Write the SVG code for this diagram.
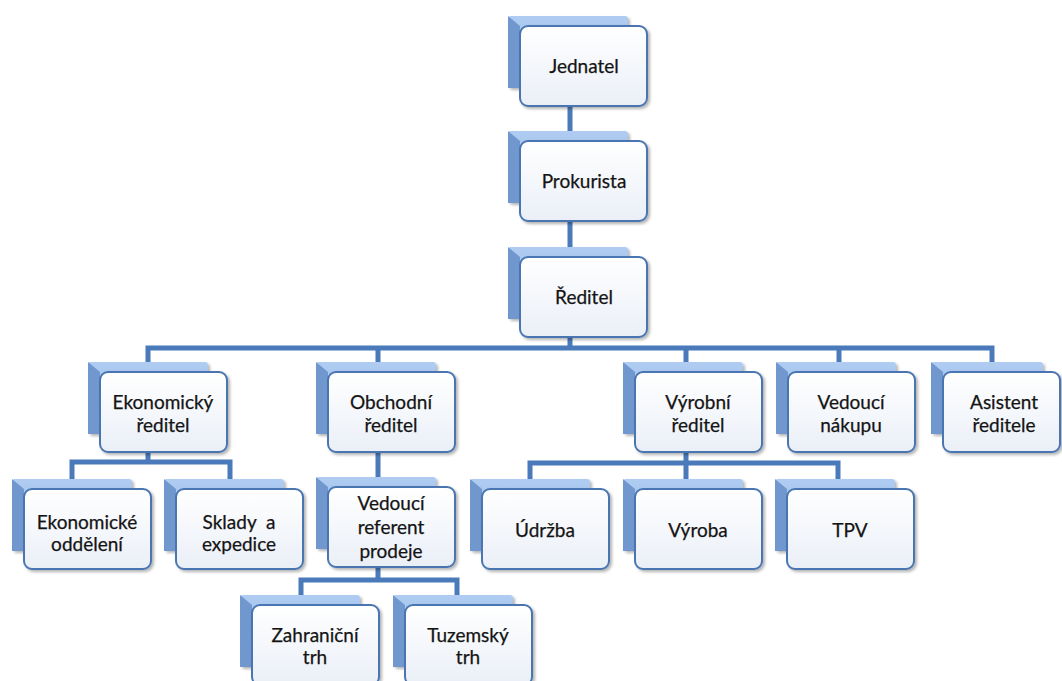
<svg xmlns="http://www.w3.org/2000/svg" xmlns:xlink="http://www.w3.org/1999/xlink" width="1062" height="681" viewBox="0 0 1062 681">
<style>
.conn{stroke:#4a7aba;stroke-width:5;fill:none;stroke-linecap:butt}
.back{fill:url(#backGrad)}
.side{fill:#7098cf}
.front{fill:url(#frontGrad);stroke:#4a76b0;stroke-width:2}
text{font-family:Lato,"Liberation Sans",sans-serif;font-size:19px;fill:#141414;text-anchor:middle;stroke:#141414;stroke-width:0.25}
.pre{white-space:pre}
</style>
<defs>
<linearGradient id="backGrad" x1="0" y1="0" x2="0" y2="1">
<stop offset="0" stop-color="#b0ccf2"/>
<stop offset="1" stop-color="#8ab0e2"/>
</linearGradient>
<linearGradient id="frontGrad" x1="0" y1="0" x2="0" y2="1">
<stop offset="0" stop-color="#ffffff"/>
<stop offset="1" stop-color="#eaeff7"/>
</linearGradient>
<filter id="sh" x="-10%" y="-10%" width="125%" height="125%">
<feGaussianBlur in="SourceAlpha" stdDeviation="1.5"/>
<feOffset dx="1.5" dy="2" result="b"/>
<feComponentTransfer><feFuncA type="linear" slope="0.3"/></feComponentTransfer>
<feMerge><feMergeNode/><feMergeNode in="SourceGraphic"/></feMerge>
</filter>
<g id="box">
<rect class="back" x="-12" y="-10" width="120" height="72" rx="3" filter="url(#sh)"/>
<polygon class="side" points="-12,-10 0,0 0,62 -12,62"/>
<rect class="front" x="0" y="0" width="127" height="80" rx="8" filter="url(#sh)"/>
</g>
<g id="boxN">
<rect class="back" x="-12" y="-10" width="112" height="72" rx="3" filter="url(#sh)"/>
<polygon class="side" points="-12,-10 0,0 0,62 -12,62"/>
<rect class="front" x="0" y="0" width="117" height="80" rx="8" filter="url(#sh)"/>
</g>
</defs>
<rect width="1062" height="681" fill="#ffffff"/>
<g id="connectors">
<path class="conn" d="M570 105V131M570 220V247M570 337V348"/>
<path class="conn" d="M148 362V348H992V362M378 348V362M686 348V362M839 348V362"/>
<path class="conn" d="M148 452V462M72 479V462H230V479"/>
<path class="conn" d="M378 452V477"/>
<path class="conn" d="M378 568V580M301 595V580H457V595"/>
<path class="conn" d="M686 452V463M530 479V463H838V479M686 463V479"/>
</g>
<g id="n-jednatel" transform="translate(520,26)"><use href="#box"/><text x="64" y="47">Jednatel</text></g>
<g id="n-prokurista" transform="translate(520,141)"><use href="#box"/><text x="64" y="47">Prokurista</text></g>
<g id="n-reditel" transform="translate(520,257)"><use href="#box"/><text x="64" y="47">Ředitel</text></g>
<g id="n-ekonomicky" transform="translate(100,372)"><use href="#box"/><text x="63" y="37">Ekonomický</text><text x="63" y="60">ředitel</text></g>
<g id="n-obchodni" transform="translate(328,372)"><use href="#box"/><text x="63" y="37">Obchodní</text><text x="63" y="60">ředitel</text></g>
<g id="n-vyrobni" transform="translate(635,372)"><use href="#box"/><text x="63" y="37">Výrobní</text><text x="63" y="60">ředitel</text></g>
<g id="n-nakup" transform="translate(788,372)"><use href="#box"/><text x="63" y="37">Vedoucí</text><text x="63" y="60">nákupu</text></g>
<g id="n-asistent" transform="translate(943,372)"><use href="#boxN"/><text x="61" y="37">Asistent</text><text x="61" y="60">ředitele</text></g>
<g id="n-ekodd" transform="translate(24,489)"><use href="#box"/><text x="63" y="40">Ekonomické</text><text x="63" y="62">oddělení</text></g>
<g id="n-sklady" transform="translate(176,489)"><use href="#box"/><text class="pre" x="63" y="40">Sklady  a</text><text x="63" y="62">expedice</text></g>
<g id="n-referent" transform="translate(328,487)"><use href="#box"/><text x="63" y="23">Vedoucí</text><text x="63" y="47">referent</text><text x="63" y="71">prodeje</text></g>
<g id="n-udrzba" transform="translate(482,489)"><use href="#box"/><text x="63" y="48">Údržba</text></g>
<g id="n-vyroba" transform="translate(635,489)"><use href="#box"/><text x="63" y="48">Výroba</text></g>
<g id="n-tpv" transform="translate(787,489)"><use href="#box"/><text x="63" y="48">TPV</text></g>
<g id="n-zahranicni" transform="translate(252,605)"><use href="#box"/><text x="63" y="37">Zahraniční</text><text x="63" y="59">trh</text></g>
<g id="n-tuzemsky" transform="translate(405,605)"><use href="#box"/><text x="63" y="37">Tuzemský</text><text x="63" y="59">trh</text></g>
</svg>
